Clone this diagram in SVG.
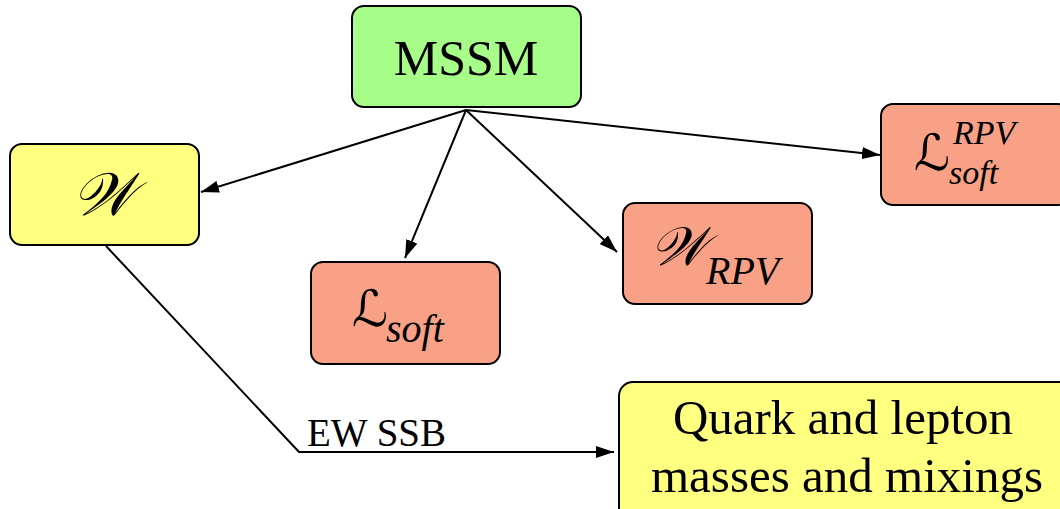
<svg xmlns="http://www.w3.org/2000/svg" width="1060" height="509" viewBox="0 0 1060 509">
  <style>
    .box { stroke: #000; stroke-width: 2; }
    .green { fill: #a6fd88; }
    .yellow { fill: #ffff80; }
    .salmon { fill: #f9a186; }
    .txt { font-family: "Liberation Serif", "Times New Roman", serif; fill: #000; }
    .it { font-family: "Liberation Serif", "Times New Roman", serif; font-style: italic; fill: #000; }
    .scr { font-family: "DejaVu Serif", "DejaVu Sans", "Liberation Serif", serif; font-style: italic; fill: #000; }
    .edge { stroke: #000; stroke-width: 2; fill: none; }
  </style>
  <defs>
    <marker id="arrow" viewBox="0 0 18 12" refX="18" refY="6" markerWidth="18" markerHeight="12" markerUnits="userSpaceOnUse" orient="auto">
      <path d="M0,0 L18,6 L0,12 z" fill="#000"/>
    </marker>
  </defs>
  <rect width="1060" height="509" fill="#fff"/>

  <g id="connectors">
    <line class="edge" x1="466" y1="110" x2="201" y2="192" marker-end="url(#arrow)"/>
    <line class="edge" x1="466" y1="110" x2="405" y2="258" marker-end="url(#arrow)"/>
    <line class="edge" x1="466" y1="110" x2="617" y2="252" marker-end="url(#arrow)"/>
    <line class="edge" x1="466" y1="110" x2="880" y2="155" marker-end="url(#arrow)"/>
    <polyline class="edge" points="106,246 299,452 614,452" marker-end="url(#arrow)"/>
    <text class="txt" x="307" y="446" font-size="39">EW SSB</text>
  </g>

  <g id="mssm">
    <rect class="box green" x="352" y="6" width="229" height="101" rx="12"/>
    <text class="txt" x="466" y="75" font-size="50" text-anchor="middle">MSSM</text>
  </g>

  <g id="superpotential">
    <rect class="box yellow" x="10" y="144" width="189" height="101" rx="12"/>
    <text class="scr" x="103" y="215" font-size="60" text-anchor="middle">𝒲</text>
  </g>

  <g id="lsoft">
    <rect class="box salmon" x="311" y="262" width="189" height="102" rx="12"/>
    <text class="scr" x="352" y="326" font-size="50">ℒ</text>
    <text class="it" x="386" y="342" font-size="40">soft</text>
  </g>

  <g id="wrpv">
    <rect class="box salmon" x="623" y="203" width="189" height="101" rx="12"/>
    <text class="scr" x="650" y="265" font-size="54">𝒲</text>
    <text class="it" x="706" y="284" font-size="40">RPV</text>
  </g>

  <g id="lsoft-rpv">
    <rect class="box salmon" x="881" y="104" width="189" height="101" rx="12"/>
    <text class="scr" x="914" y="170" font-size="50">ℒ</text>
    <text class="it" x="953" y="144" font-size="34">RPV</text>
    <text class="it" x="949" y="184" font-size="34">soft</text>
  </g>

  <g id="masses">
    <rect class="box yellow" x="619" y="382" width="460" height="140" rx="14"/>
    <text class="txt" x="843" y="434" font-size="49" text-anchor="middle">Quark and lepton</text>
    <text class="txt" x="847" y="492" font-size="49" text-anchor="middle">masses and mixings</text>
  </g>
</svg>
